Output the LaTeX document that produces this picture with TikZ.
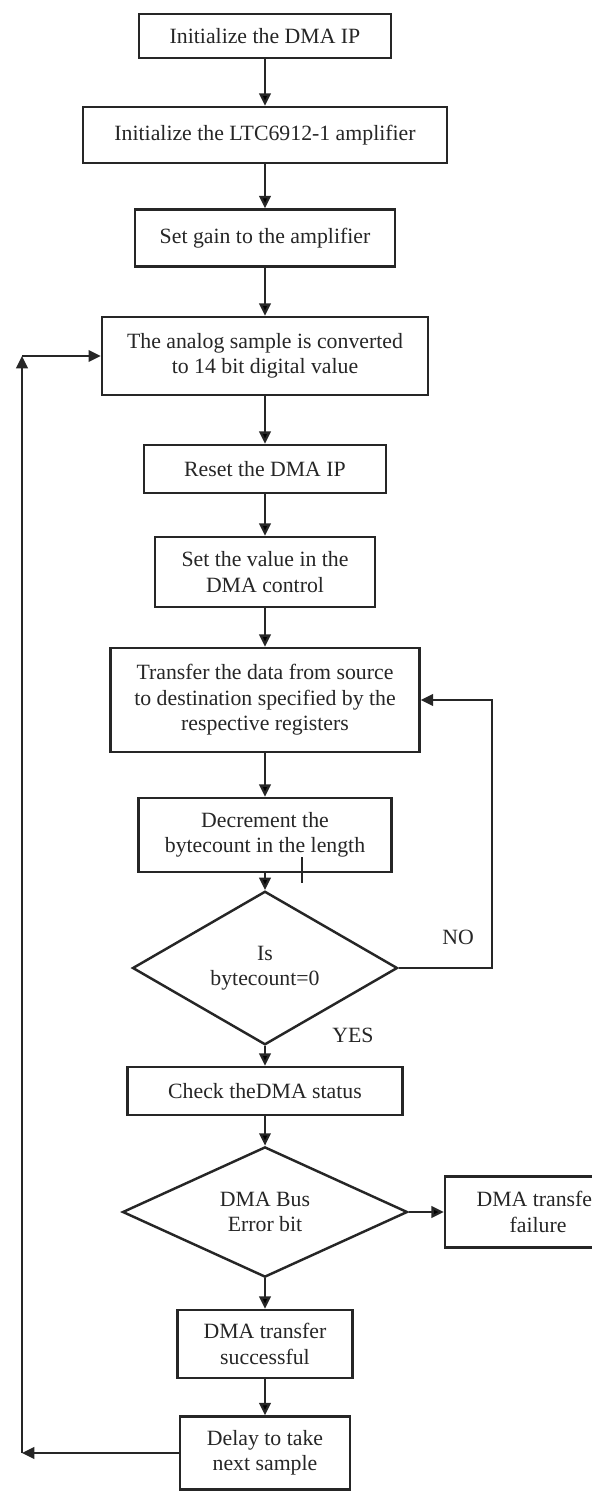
\documentclass[tikz,border=0pt]{standalone}
\usepackage{tikz}
\usepackage{fontspec}
\setmainfont{Liberation Serif}
\usetikzlibrary{arrows.meta,positioning,shapes.geometric}
\definecolor{inkgray}{gray}{0.15}
\tikzstyle{process} = [rectangle,draw=inkgray,line width=1.4pt,fill=white,align=center,text=inkgray,inner sep=2pt,font=\fontsize{12.4}{14.5}\selectfont]
\tikzstyle{decision} = [diamond,draw=inkgray,line width=1.4pt,fill=white,align=center,text=inkgray,inner sep=0pt,font=\fontsize{12.4}{14.5}\selectfont]
\tikzstyle{flow} = [->,draw=inkgray,line width=1.3pt]
\tikzstyle{answer} = [text=inkgray,font=\fontsize{12.4}{14.5}\selectfont]

\begin{document}
\begin{tikzpicture}[x=0.02cm,y=-0.02cm,>={Triangle[length=7pt,width=6.5pt]}]
	\useasboundingbox (0,0) rectangle (592,1492);
	\clip (0,0) rectangle (592,1492);
%--------------------start object code --------------------
	%Set up
	\node[process,minimum width=5.04cm,minimum height=0.88cm] (init) at (265,36) {Initialize the DMA IP};
	\node[process,minimum width=7.28cm,minimum height=1.12cm] (ltc) at (265,135) {Initialize the LTC6912-1 amplifier};
	\node[process,minimum width=5.2cm,minimum height=1.14cm] (gain) at (265,238) {Set gain to the amplifier};
	
	%Sampling
	\node[process,minimum width=6.52cm,minimum height=1.56cm] (conv) at (265,356) {The analog sample is converted\\to 14 bit digital value};
	\node[process,minimum width=4.84cm,minimum height=0.96cm] (reset) at (265,469) {Reset the DMA IP};
	\node[process,minimum width=4.4cm,minimum height=1.4cm] (setval) at (265,572) {Set the value in the\\DMA control};
	
	%Transfer loop
	\node[process,minimum width=6.18cm,minimum height=2.08cm] (transfer) at (265,700) {Transfer the data from source\\to destination specified by the\\respective registers};
	\node[process,minimum width=5.06cm,minimum height=1.48cm] (decr) at (265,835) {Decrement the\\bytecount in the length};
	\node[decision,minimum width=5.3cm,minimum height=2.54cm] (zerotest) at (265,968) {Is\\bytecount=0};
	
	%Status
	\node[process,minimum width=5.5cm,minimum height=0.96cm] (check) at (265,1091) {Check theDMA status};
	\node[decision,minimum width=5.7cm,minimum height=2.24cm] (errtest) at (265,1212) {DMA Bus\\Error bit};
	\node[process,minimum width=3.72cm,minimum height=1.42cm] (fail) at (538,1212) {DMA transfer\\failure};
	\node[process,minimum width=3.5cm,minimum height=1.36cm] (success) at (265,1344) {DMA transfer\\successful};
	\node[process,minimum width=3.4cm,minimum height=1.46cm] (delay) at (265,1453) {Delay to take\\next sample};
	
	\node[answer] (nolabel) at (458,937) {NO};
	\node[answer] (yeslabel) at (353,1035) {YES};
	
	%Straight flow
	\path[flow] (init) edge (ltc);
	\path[flow] (ltc) edge (gain);
	\path[flow] (gain) edge (conv);
	\path[flow] (conv) edge (reset);
	\path[flow] (reset) edge (setval);
	\path[flow] (setval) edge (transfer);
	\path[flow] (transfer) edge (decr);
	\path[flow] (decr) edge (zerotest);
	\path[flow] (zerotest) edge (check);
	\path[flow] (check) edge (errtest);
	\path[flow] (errtest) edge (fail);
	\path[flow] (errtest) edge (success);
	\path[flow] (success) edge (delay);
	
	%NO branch back to the transfer
	\coordinate (noback) at (492,700);
	\draw[flow] (zerotest.east) -| (noback) -- (transfer.east);
	
	%Next sample loop
	\coordinate (loopbot) at (22,1453);
	\coordinate (looptop) at (22,356);
	\draw[flow] (delay.west) -- (loopbot);
	\draw[flow] (loopbot) -- (looptop);
	\draw[flow] (looptop) -- (conv.west);
	
	%Stray mark
	\draw[inkgray,line width=1.5pt] (302,857) -- (302,883);
%-------------------------end object code-----------------------
\end{tikzpicture}
\end{document}
